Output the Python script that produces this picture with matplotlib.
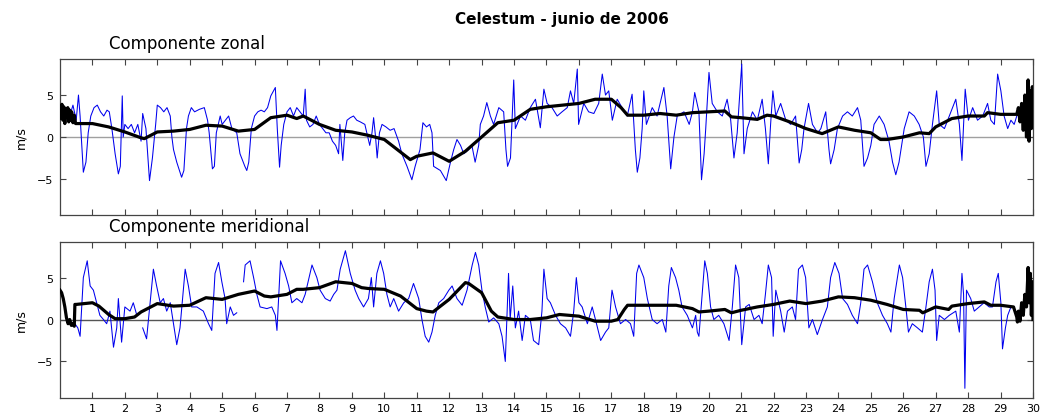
import numpy as np
import matplotlib
matplotlib.use('Agg')
import matplotlib.pyplot as plt

# Celestum - June 2006, wind components (m/s) vs day of month

# zonal component, raw record (blue)
zonal_t = [0.0, 0.1, 0.2, 0.3, 0.4, 0.5, 0.57, 0.62, 0.72, 0.8, 0.87, 0.95, 1.05, 1.15, 1.25, 1.35, 1.45, 1.52, 1.6, 1.7,
           1.8, 1.86, 1.92, 1.95, 2.0, 2.1, 2.2, 2.3, 2.4, 2.5, 2.55, 2.65, 2.76, 2.85, 2.95, 3.0, 3.1, 3.2, 3.3, 3.4,
           3.45, 3.5, 3.6, 3.75, 3.82, 3.9, 3.96, 4.05, 4.15, 4.3, 4.45, 4.55, 4.6, 4.7, 4.76, 4.82, 4.94, 5.0, 5.1, 5.2,
           5.3, 5.45, 5.55, 5.7, 5.76, 5.82, 5.9, 6.0, 6.1, 6.2, 6.3, 6.4, 6.5, 6.64, 6.7, 6.77, 6.82, 6.9, 7.0, 7.1,
           7.2, 7.3, 7.4, 7.5, 7.56, 7.6, 7.7, 7.8, 7.9, 8.0, 8.1, 8.2, 8.3, 8.4, 8.5, 8.59, 8.63, 8.72, 8.78, 8.85,
           8.95, 9.05, 9.15, 9.26, 9.4, 9.55, 9.62, 9.67, 9.73, 9.78, 9.85, 9.93, 10.05, 10.18, 10.3, 10.44, 10.54, 10.7, 10.85, 10.95,
           11.1, 11.19, 11.3, 11.4, 11.47, 11.52, 11.65, 11.73, 11.91, 12.04, 12.14, 12.24, 12.35, 12.45, 12.6, 12.7, 12.8, 12.91, 12.96, 13.06,
           13.16, 13.27, 13.37, 13.53, 13.68, 13.75, 13.8, 13.89, 13.99, 14.04, 14.2, 14.35, 14.5, 14.66, 14.81, 14.92, 15.02, 15.17, 15.33, 15.48,
           15.64, 15.74, 15.84, 15.95, 15.99, 16.15, 16.3, 16.46, 16.61, 16.72, 16.82, 16.92, 17.03, 17.18, 17.33, 17.49, 17.64, 17.74, 17.8, 17.88,
           17.95, 18.0, 18.08, 18.26, 18.41, 18.62, 18.72, 18.83, 18.93, 19.03, 19.24, 19.4, 19.5, 19.57, 19.7, 19.78, 19.86, 19.91, 20.01, 20.11,
           20.27, 20.42, 20.57, 20.68, 20.78, 20.88, 21.02, 21.09, 21.19, 21.35, 21.5, 21.65, 21.75, 21.84, 21.91, 21.98, 22.07, 22.22, 22.38, 22.53,
           22.68, 22.79, 22.87, 22.94, 23.08, 23.2, 23.36, 23.46, 23.61, 23.71, 23.76, 23.87, 23.97, 24.13, 24.28, 24.43, 24.59, 24.69, 24.79, 24.9,
           25.0, 25.1, 25.26, 25.41, 25.56, 25.67, 25.77, 25.87, 26.03, 26.18, 26.34, 26.49, 26.62, 26.7, 26.8, 26.9, 27.03, 27.11, 27.27, 27.42,
           27.62, 27.73, 27.81, 27.91, 28.01, 28.14, 28.29, 28.45, 28.6, 28.7, 28.81, 28.91, 29.01, 29.11, 29.22, 29.32, 29.42, 29.5]
zonal_u = [3.0, 2.0, 3.5, 2.5, 3.8, 2.0, 5.0, 2.5, -4.2, -3.0, 0.5, 2.5, 3.5, 3.8, 3.0, 2.5, 3.2, 3.0, 1.0, -2.0,
           -4.4, -3.5, 4.9, 0.0, 1.5, 1.0, 1.5, 0.5, 1.5, -0.5, 2.8, 1.0, -5.2, -2.5, 1.5, 3.8, 3.5, 3.0, 3.5, 2.5,
           0.0, -1.5, -3.0, -4.8, -4.0, 1.0, 2.5, 3.5, 3.0, 3.3, 3.5, 2.0, 0.5, -3.8, -3.5, 0.5, 2.5, 1.5, 2.0, 2.5,
           1.0, 0.5, -2.0, -3.5, -4.0, -3.0, 1.0, 2.5, 3.0, 3.2, 3.0, 3.5, 4.9, 5.9, 1.0, -3.6, -1.0, 1.5, 3.0, 3.5,
           2.5, 3.5, 3.0, 2.5, 5.7, 2.0, 1.2, 1.5, 2.5, 1.5, 1.0, 0.5, 0.5, -0.5, -1.0, -2.0, 1.5, -2.8, 0.5, 2.0,
           2.3, 2.5, 2.0, 1.8, 1.5, -1.0, 0.5, 2.3, 0.0, -2.5, 0.5, 1.5, 1.2, 0.8, 1.0, -0.5, -2.0, -3.5, -5.1, -3.5,
           -1.5, 1.7, 1.2, 1.5, 0.5, -3.5, -3.8, -4.0, -5.2, -3.0, -1.5, -0.3, -1.0, -2.0, -1.5, -1.0, -3.0, -1.0, 1.5, 2.5,
           4.1, 2.5, 1.5, 3.5, 3.0, -1.5, -3.5, -2.5, 6.8, 1.0, 2.5, 2.0, 3.5, 4.5, 1.1, 5.7, 4.0, 3.5, 2.5, 3.0,
           3.5, 5.5, 4.0, 8.1, 1.5, 4.0, 3.0, 2.8, 4.0, 7.5, 5.0, 5.5, 2.0, 4.5, 3.5, 2.5, 5.1, -1.5, -4.2, -2.5,
           1.0, 5.5, 1.5, 3.5, 2.5, 5.9, 2.5, -3.8, 0.0, 2.5, 3.0, 1.5, 3.0, 5.3, 3.0, -5.1, -2.0, 1.0, 7.7, 4.0,
           3.0, 2.5, 4.5, 2.0, -2.5, 0.5, 8.7, -2.0, 1.0, 3.0, 2.0, 4.5, 1.0, -3.2, 1.5, 5.5, 2.5, 4.0, 2.0, 1.5,
           2.5, -3.1, -1.5, 1.0, 4.0, 1.5, 0.5, 1.0, 3.0, -1.5, -3.2, -1.5, 1.0, 2.5, 3.0, 2.5, 3.5, 2.0, -3.5, -2.5,
           -1.0, 1.5, 2.5, 1.5, -0.5, -3.0, -4.5, -3.0, 1.0, 3.0, 2.5, 1.5, 0.0, -3.5, -2.0, 1.5, 5.5, 1.5, 1.0, 2.5,
           4.5, 1.5, -2.8, 5.7, 2.0, 3.5, 2.0, 2.5, 4.0, 2.0, 1.5, 7.5, 5.5, 2.5, 1.0, 2.0, 1.5, 2.5]

# zonal component, filtered (black)
zonal_ft = [0.0, 0.03, 0.06, 0.09, 0.12, 0.15, 0.18, 0.21, 0.24, 0.27, 0.3, 0.33, 0.36, 0.4, 0.44, 0.48, 0.5, 1.0, 1.5, 2.0,
            2.5, 2.6, 3.0, 3.5, 4.0, 4.5, 5.0, 5.5, 6.0, 6.5, 7.0, 7.3, 7.5, 8.0, 8.5, 9.0, 9.5, 10.0, 10.5, 10.8,
            11.0, 11.5, 12.0, 12.5, 13.0, 13.5, 14.0, 14.5, 15.0, 15.5, 16.0, 16.5, 17.0, 17.3, 17.5, 18.0, 18.5, 19.0, 19.5, 20.0,
            20.5, 20.7, 21.0, 21.5, 21.8, 22.0, 22.5, 23.0, 23.5, 24.0, 24.5, 25.0, 25.3, 25.5, 26.0, 26.5, 26.8, 27.0, 27.5, 28.0,
            28.5, 28.6, 29.0, 29.5, 29.55, 29.6, 29.65, 29.7, 29.75, 29.8, 29.85, 29.88, 29.92, 29.95, 29.98, 30.0]
zonal_fu = [3.0, 2.2, 3.9, 2.0, 3.6, 1.6, 3.4, 2.4, 3.5, 1.8, 3.2, 2.0, 3.0, 1.7, 2.6, 1.6, 1.6, 1.6, 1.2, 0.6,
            -0.1, -0.2, 0.6, 0.7, 0.9, 1.4, 1.3, 0.7, 0.9, 2.3, 2.6, 2.2, 2.5, 1.5, 0.8, 0.6, 0.2, -0.3, -1.8, -2.7,
            -2.3, -1.9, -2.9, -1.7, 0.0, 1.7, 2.0, 3.3, 3.6, 3.8, 4.0, 4.5, 4.5, 3.5, 2.6, 2.6, 2.8, 2.6, 2.9, 3.0,
            3.1, 2.4, 2.3, 2.1, 2.6, 2.5, 1.8, 1.0, 0.4, 1.2, 0.8, 0.5, -0.3, -0.3, 0.0, 0.5, 0.4, 1.2, 2.2, 2.5,
            2.5, 2.9, 2.7, 2.7, 3.5, 1.8, 4.0, 0.8, 5.0, 0.0, 6.8, -0.5, 5.5, 1.0, 6.0, 2.5]

# meridional component, raw record (blue), nan = gap in record
merid_t = [0.46, 0.55, 0.62, 0.72, 0.84, 0.93, 1.03, 1.13, 1.23, 1.34, 1.44, 1.54, 1.65, 1.75, 1.8, 1.9, 2.0, 2.16, 2.26, 2.37,
           2.45, 2.55, 2.67, 2.78, 2.88, 2.98, 3.09, 3.19, 3.29, 3.4, 3.5, 3.6, 3.7, 3.86, 3.96, 4.06, 4.22, 4.42, 4.58, 4.68,
           4.78, 4.89, 4.99, 5.09, 5.14, 5.25, 5.35, 5.45, 5.55, 5.66, 5.71, 5.86, 5.97, 6.07, 6.17, 6.38, 6.53, 6.64, 6.69, 6.8,
           6.94, 7.05, 7.15, 7.3, 7.46, 7.56, 7.77, 7.92, 8.02, 8.18, 8.33, 8.44, 8.54, 8.64, 8.8, 8.95, 9.1, 9.21, 9.36, 9.51,
           9.6, 9.67, 9.77, 9.88, 9.98, 10.08, 10.18, 10.29, 10.44, 10.6, 10.75, 10.9, 11.06, 11.16, 11.26, 11.37, 11.47, 11.57, 11.68, 11.83,
           11.99, 12.09, 12.24, 12.4, 12.55, 12.71, 12.81, 12.91, 13.01, 13.11, 13.22, 13.37, 13.53, 13.63, 13.73, 13.83, 13.88, 13.96, 14.04, 14.14,
           14.25, 14.35, 14.5, 14.6, 14.76, 14.86, 14.92, 15.02, 15.12, 15.28, 15.43, 15.59, 15.74, 15.84, 15.92, 16.0, 16.1, 16.26, 16.41, 16.51,
           16.67, 16.82, 16.92, 17.02, 17.13, 17.28, 17.44, 17.59, 17.69, 17.78, 17.85, 18.0, 18.11, 18.26, 18.41, 18.57, 18.68, 18.77, 18.85, 18.98,
           19.08, 19.18, 19.34, 19.5, 19.6, 19.65, 19.7, 19.8, 19.88, 19.96, 20.06, 20.16, 20.31, 20.47, 20.63, 20.73, 20.83, 20.93, 21.02, 21.14,
           21.25, 21.4, 21.55, 21.65, 21.75, 21.84, 21.94, 21.99, 22.07, 22.22, 22.33, 22.43, 22.58, 22.68, 22.77, 22.89, 22.99, 23.09, 23.2, 23.35,
           23.51, 23.66, 23.76, 23.89, 24.02, 24.13, 24.28, 24.43, 24.59, 24.69, 24.79, 24.9, 25.05, 25.2, 25.36, 25.51, 25.62, 25.72, 25.88, 25.98,
           26.08, 26.16, 26.28, 26.44, 26.59, 26.7, 26.8, 26.9, 26.98, 27.03, 27.11, 27.27, 27.42, 27.62, 27.73, 27.81, 27.86, 27.9, 27.95, 28.08,
           28.19, 28.34, 28.49, 28.65, 28.75, 28.86, 28.93, 29.01, 29.06, 29.15, 29.22, 29.32, 29.42]
merid_v = [-0.5, -1.0, -2.0, 5.0, 7.0, 4.0, 3.5, 2.0, 0.5, 0.0, -0.5, 1.0, -3.3, -1.0, 2.5, -2.7, 1.5, 1.0, 2.0, 0.5,
           np.nan, -1.0, -2.3, 2.0, 6.0, 4.0, 2.0, 2.5, 1.0, 2.0, -0.5, -3.0, -1.0, 6.0, 4.0, 1.5, 1.5, 1.0, -0.5, -1.3,
           5.5, 6.8, 4.5, 2.5, -0.5, 1.5, 0.5, 0.8, np.nan, 4.5, 6.5, 7.0, 5.0, 3.0, 1.5, 1.3, 1.5, 0.5, -1.3, 7.0,
           5.5, 4.0, 2.0, 2.5, 2.0, 3.0, 6.5, 5.0, 3.5, 2.5, 2.2, 3.0, 3.5, 6.0, 8.2, 5.5, 3.5, 2.5, 1.5, 2.5,
           5.0, 1.5, 5.5, 7.0, 5.5, 3.0, 1.5, 2.5, 1.0, 2.0, 2.5, 4.3, 2.5, 0.0, -2.0, -2.7, -1.5, 0.5, 2.0, 2.5,
           3.5, 4.0, 2.5, 1.7, 3.5, 6.5, 8.0, 6.5, 3.5, 1.5, -0.3, 0.2, -0.5, -2.0, -5.0, 5.5, 0.0, 4.0, -1.0, 1.0,
           -2.5, 0.5, 0.0, -2.5, -3.0, 1.0, 6.0, 2.5, 2.0, 0.5, -0.5, -1.0, -2.0, 1.0, 5.0, 2.0, 1.5, -0.5, 1.5, 0.0,
           -2.5, -1.5, -1.0, 3.5, 1.5, -0.5, 0.0, -0.5, -2.0, 5.5, 6.5, 5.0, 2.5, 0.0, -0.5, 0.0, -1.5, 4.0, 6.2, 5.0,
           3.5, 1.5, 0.5, -1.0, 0.5, -1.5, -2.0, 3.0, 7.0, 5.5, 1.5, 0.0, 0.5, -0.5, -2.5, 1.5, 6.5, 5.0, -3.0, 1.5,
           1.8, 0.0, 0.5, -0.5, 3.0, 6.5, 5.0, -2.0, 3.5, 1.0, -1.5, 1.0, 1.5, 0.0, 6.0, 6.5, 5.0, -1.0, 0.0, -1.8,
           0.0, 1.5, 5.0, 6.8, 5.5, 2.5, 1.8, 0.5, -0.5, 2.0, 6.0, 6.5, 4.5, 2.0, 0.5, -0.5, -1.5, 2.5, 6.5, 5.0,
           1.5, -1.5, -0.5, -1.0, -1.5, 1.5, 4.5, 6.0, 3.5, -2.5, 0.5, 0.0, 0.5, 1.0, -1.5, 5.5, 3.0, -8.2, 3.5, 2.5,
           1.0, 1.5, 2.0, 1.5, 1.5, 4.5, 5.5, 2.0, -3.5, -1.0, 0.5, 1.5, 1.5]

# meridional component, filtered (black)
merid_ft = [0.0, 0.05, 0.1, 0.15, 0.2, 0.25, 0.3, 0.35, 0.4, 0.44, 0.45, 0.46, 0.5, 1.0, 1.2, 1.5, 1.7, 2.0, 2.3, 2.5,
            3.0, 3.5, 4.0, 4.5, 5.0, 5.5, 6.0, 6.3, 6.5, 7.0, 7.3, 7.5, 8.0, 8.5, 9.0, 9.3, 9.5, 10.0, 10.5, 11.0,
            11.3, 11.5, 12.0, 12.5, 12.6, 13.0, 13.3, 13.5, 14.0, 14.5, 15.0, 15.4, 16.0, 16.5, 17.0, 17.2, 17.4, 17.5, 18.0, 18.5,
            19.0, 19.5, 19.7, 20.0, 20.5, 20.7, 21.0, 21.5, 22.0, 22.5, 23.0, 23.5, 24.0, 24.5, 25.0, 25.5, 26.0, 26.5, 26.6, 27.0,
            27.4, 27.5, 28.0, 28.5, 28.7, 29.0, 29.4, 29.5, 29.52, 29.55, 29.6, 29.65, 29.7, 29.75, 29.8, 29.85, 29.88, 29.92, 29.95, 29.98,
            30.0]
merid_fv = [3.5, 3.2, 2.5, 1.5, 0.2, -0.5, 0.0, -0.7, -0.5, -0.8, 0.5, 1.8, 1.8, 2.0, 1.6, 0.6, 0.1, 0.1, 0.3, 0.9,
            1.9, 1.6, 1.7, 2.6, 2.4, 3.0, 3.4, 2.8, 2.7, 3.0, 3.6, 3.6, 3.8, 4.5, 4.3, 3.8, 3.7, 3.6, 2.8, 1.3,
            1.0, 0.9, 2.4, 4.4, 4.3, 3.2, 1.0, 0.3, 0.0, 0.0, 0.2, 0.6, 0.4, -0.2, -0.2, 0.0, 1.2, 1.7, 1.7, 1.7,
            1.7, 1.3, 0.9, 1.0, 1.2, 0.8, 1.1, 1.5, 1.8, 2.2, 1.9, 2.2, 2.7, 2.6, 2.3, 1.8, 1.2, 1.1, 0.8, 1.5,
            1.2, 1.6, 1.9, 2.1, 1.7, 1.7, 1.5, 0.3, -0.3, 1.0, -0.2, 2.0, 0.5, 3.0, 1.5, 6.2, 2.0, 5.5, 0.5, 4.5,
            0.0]

day_ticks = list(range(1, 31))
yticks = [-5, 0, 5]

plt.rcParams['font.family'] = 'DejaVu Sans'
frame = '#444444'

fig = plt.figure(figsize=(10.45, 4.14), dpi=100)
ax1 = fig.add_axes([0.0574, 0.4783, 0.9311, 0.3768])
ax2 = fig.add_axes([0.0574, 0.0374, 0.9311, 0.3768])

panels = [(ax1, zonal_t, zonal_u, zonal_ft, zonal_fu, '#a0a0a0', 'Componente zonal'),
          (ax2, merid_t, merid_v, merid_ft, merid_fv, '#555555', 'Componente meridional')]

for ax, t, raw, ft, filt, zcol, name in panels:
    ax.axhline(0, color=zcol, lw=1.0, zorder=1)
    ax.plot(t, raw, color='#0000ee', lw=0.75, zorder=2)
    ax.plot(ft, filt, color='k', lw=2.3, zorder=3)
    ax.set_xlim(0, 30)
    ax.set_ylim(-9.3, 9.3)
    ax.set_xticks(day_ticks)
    ax.set_yticks(yticks)
    ax.tick_params(direction='in', length=4, width=0.8, color=frame,
                   top=True, right=True, labelsize=8, pad=5)
    for sp in ax.spines.values():
        sp.set_color(frame)
        sp.set_linewidth(0.9)
    ax.set_ylabel('m/s', fontsize=9, labelpad=7)
    ax.text(0.0505, 1.045, name, transform=ax.transAxes, fontsize=12,
            ha='left', va='bottom')

ax1.set_xticklabels([])
ax2.tick_params(axis='x', pad=4)

fig.text(0.5375, 0.952, 'Celestum - junio de 2006', ha='center', va='center',
         fontsize=11, fontweight='bold')

plt.savefig('out.png', dpi=100)
